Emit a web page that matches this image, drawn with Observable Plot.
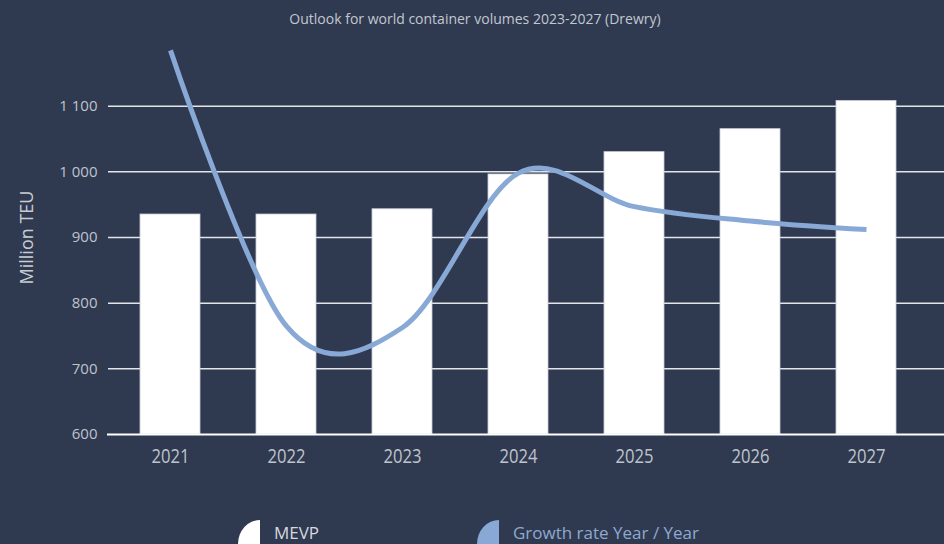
<!DOCTYPE html>
<html>
<head>
<meta charset="utf-8">
<script src="https://cdn.jsdelivr.net/npm/d3@7"></script>
<script src="https://cdn.jsdelivr.net/npm/@observablehq/plot@0.6"></script>
<style>
  html, body { margin: 0; padding: 0; }
  body { width: 944px; height: 544px; overflow: hidden; background: #2F3A51; position: relative; font-family: "Open Sans", "Noto Sans", sans-serif; }
  #title { position: absolute; left: 0; width: 950px; top: 9px; text-align: center; font-size: 14px; line-height: 20px; color: #c3c7cf; }
  #chart { position: absolute; left: 0; top: 36px; }
  #chart svg { overflow: visible; }
  .sw { position: absolute; top: 520px; width: 22px; height: 24px; border-top-left-radius: 22px 24px; }
  .lt { position: absolute; top: 523px; font-size: 17px; line-height: 20px; white-space: nowrap; }
</style>
</head>
<body>
<div id="title">Outlook for world container volumes 2023-2027 (Drewry)</div>
<div id="chart"></div>
<div class="sw" style="left:238px; background:#ffffff;"></div>
<div class="lt" style="left:274px; color:#d6d9df;">MEVP</div>
<div class="sw" style="left:477px; background:#89a8d5;"></div>
<div class="lt" style="left:513px; color:#8ea9cf;">Growth rate Year / Year</div>
<script>
// Data
const years = ["2021", "2022", "2023", "2024", "2025", "2026", "2027"];
const mevp = [935, 935, 943, 996, 1030, 1065, 1108];          // Million TEU (bars)
const growthLine = [1185, 765, 763, 998, 947, 925, 912];       // growth-rate curve as drawn on the chart
const yTicks = [600, 700, 800, 900, 1000, 1100];
const gridTicks = [700, 800, 900, 1000, 1100];

const bars = years.map((y, i) => ({year: y, value: mevp[i]}));
const growth = years.map((y, i) => ({year: y, value: growthLine[i]}));
const fmt = d3.formatLocale({thousands: " ", grouping: [3], decimal: "."}).format(",d");

const chart = Plot.plot({
  width: 944,
  height: 448,
  marginLeft: 108,
  marginRight: 16,
  marginTop: 4,
  marginBottom: 50,
  style: {background: "transparent", color: "#bfc3cb", fontFamily: "'Open Sans', 'Noto Sans', sans-serif", overflow: "visible"},
  x: {domain: years, paddingInner: 0.48, paddingOuter: 0.25},
  y: {domain: [600, 1200]},
  marks: [
    Plot.ruleY(gridTicks, {stroke: "#e2e5ea", strokeWidth: 1.5, insetRight: -16}),
    Plot.barY(bars, {x: "year", y: "value", y1: 600, fill: "#ffffff", stroke: "#c9cdd5", strokeWidth: 0.8}),
    Plot.ruleY([600], {stroke: "#ffffff", strokeWidth: 2.2, insetLeft: -1, insetRight: -16}),
    Plot.line(growth, {x: "year", y: "value", curve: "cardinal", stroke: "#88a8d5", strokeWidth: 5, strokeLinecap: "butt"}),
    Plot.axisY({ticks: yTicks, tickFormat: fmt, tickSize: 0, tickPadding: 11, fontSize: 15,
      label: "Million TEU", labelAnchor: "center", labelArrow: "none", labelOffset: 88}),
    Plot.axisX({tickSize: 0, tickPadding: 14, fontSize: 20, label: null})
  ]
});
document.getElementById("chart").appendChild(chart);
// style the y-axis title
chart.querySelectorAll('g[aria-label="y-axis label"] text').forEach(t => { t.setAttribute("font-size", "18"); t.setAttribute("fill", "#c9ccd3"); });
// narrow the year labels like the reference
chart.querySelectorAll('g[aria-label="x-axis tick label"] text').forEach(t => { t.setAttribute("textLength", "38"); t.setAttribute("lengthAdjust", "spacingAndGlyphs"); });
</script>
</body>
</html>
